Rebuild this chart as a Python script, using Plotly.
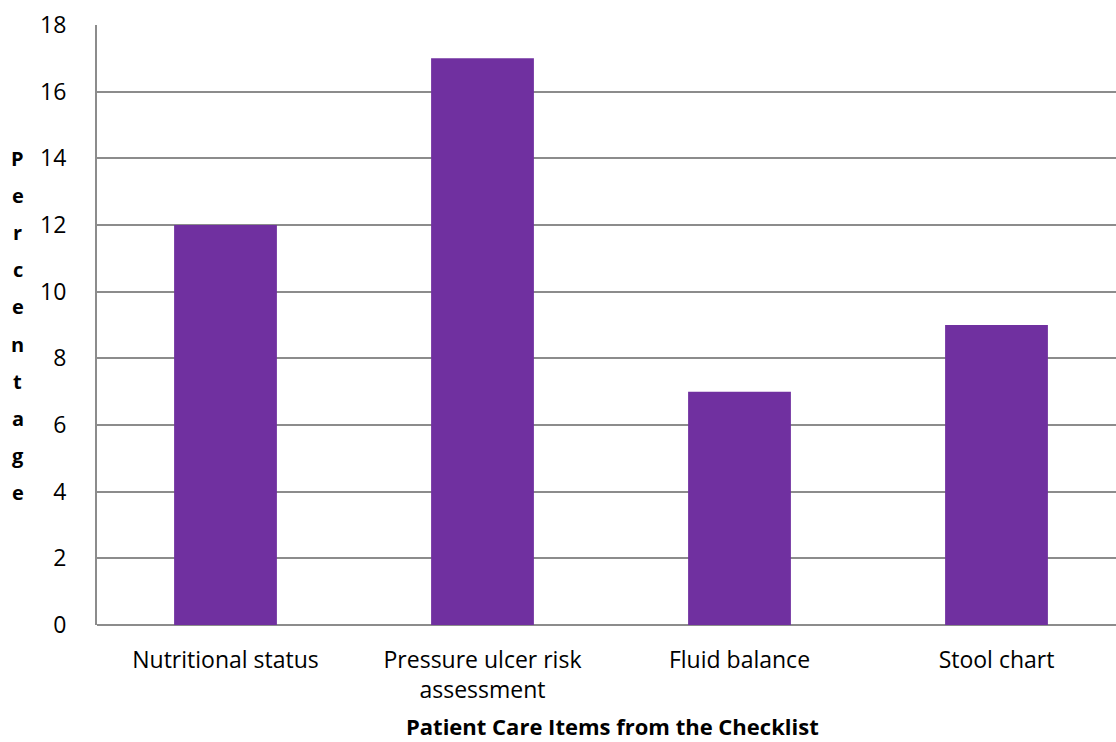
import plotly.graph_objects as go

# Checklist items and the share of records in which each was completed
categories = ["Nutritional status", "Pressure ulcer risk<br>assessment", "Fluid balance", "Stool chart"]
percentages = [12, 17, 7, 9]
y_ticks = [0, 2, 4, 6, 8, 10, 12, 14, 16, 18]
y_title = "Percentage"

FONT = "'Open Sans', 'Noto Sans', sans-serif"
GRID = "#8c8c8c"

fig = go.Figure(
    go.Bar(
        x=categories,
        y=percentages,
        width=0.4,
        marker=dict(color="#7030A0", line=dict(width=0)),
    )
)

# Vertical axis title drawn one letter per row
letter_top, letter_step = 158, 37.2
plot_top, plot_h = 25, 600
title_letters = [
    dict(
        text=f"<b>{ch}</b>",
        xref="paper", yref="paper",
        x=-0.078, y=1 - (letter_top + i * letter_step - plot_top) / plot_h,
        xanchor="center", yanchor="middle",
        showarrow=False,
        font=dict(family=FONT, size=20, color="#000000"),
    )
    for i, ch in enumerate(y_title)
]

fig.update_layout(
    width=1116,
    height=742,
    margin=dict(l=97, r=0, t=25, b=117),
    paper_bgcolor="white",
    plot_bgcolor="white",
    showlegend=False,
    font=dict(family=FONT, size=23, color="#000000"),
    xaxis=dict(
        type="category",
        range=[-0.5, 3.465],
        showgrid=False,
        showline=False,
        ticks="",
        tickfont=dict(size=23),
        ticklabelstandoff=19,
    ),
    yaxis=dict(
        range=[0, 18],
        tickvals=y_ticks,
        showgrid=True,
        gridcolor=GRID,
        gridwidth=1.5,
        zeroline=True,
        zerolinecolor=GRID,
        zerolinewidth=2,
        showline=True,
        linecolor=GRID,
        linewidth=2,
        ticks="",
        tickfont=dict(size=23),
        ticklabelstandoff=24,
    ),
    annotations=title_letters + [
        dict(
            text="<b>Patient Care Items from the Checklist</b>",
            xref="paper", yref="paper",
            x=0.506, y=-0.168,
            xanchor="center", yanchor="middle",
            showarrow=False,
            font=dict(family=FONT, size=22, color="#000000"),
        ),
    ],
)

fig.write_html("out.html")
